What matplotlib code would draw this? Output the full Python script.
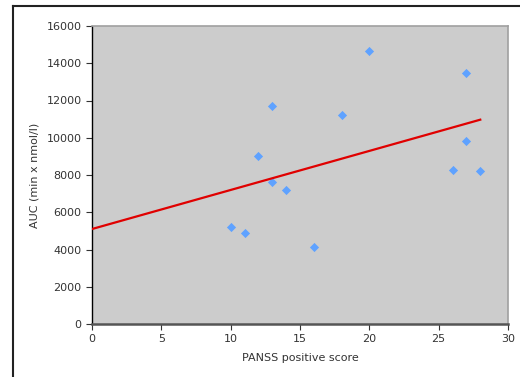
import matplotlib.pyplot as plt
from matplotlib.lines import Line2D

# PANSS positive score vs AUC
panss = [10, 11, 12, 13, 13, 14, 16, 18, 20, 26, 27, 27, 28]
auc = [5190, 4870, 9040, 11730, 7630, 7200, 4150, 11230, 14680, 8270, 13480, 9810, 8220]

# linear trend line end points
trend_x = [0, 28]
trend_y = [5100, 10970]

plt.rcParams.update({'font.size': 8, 'font.family': 'DejaVu Sans'})

W, H = 520, 377
fig = plt.figure(figsize=(W / 100, H / 100), dpi=100)
ax = fig.add_axes([92 / W, 1 - 324 / H, (508 - 92) / W, (324 - 26) / H])

ax.set_facecolor('#cccccc')
ax.scatter(panss, auc, marker='D', s=22, color='#5fa2ff', zorder=3, linewidths=0)
ax.plot(trend_x, trend_y, color='#e00000', lw=1.6, zorder=4)

ax.set_xlim(0, 30)
ax.set_ylim(0, 16000)
ax.set_xticks(range(0, 31, 5))
ax.set_yticks(range(0, 16001, 2000))

ax.set_xlabel('PANSS positive score', color='#333333', labelpad=6)
ax.set_ylabel('AUC (min x nmol/l)', color='#333333', labelpad=5)
ax.tick_params(colors='#333333', length=4, width=0.8)

for side in ['top', 'right']:
    ax.spines[side].set_color('#a0a0a0')
    ax.spines[side].set_linewidth(1.2)
ax.spines['left'].set_color('black')
ax.spines['left'].set_linewidth(1.0)
ax.spines['bottom'].set_color('#555555')
ax.spines['bottom'].set_linewidth(1.8)

# outer chart frame
fig.add_artist(Line2D([13 / W, 1], [1 - 6 / H, 1 - 6 / H], color='#222222', lw=1.5,
                      transform=fig.transFigure))
fig.add_artist(Line2D([13 / W, 13 / W], [1 - 6 / H, 0], color='#222222', lw=1.5,
                      transform=fig.transFigure))

fig.savefig('out.png', dpi=100)
